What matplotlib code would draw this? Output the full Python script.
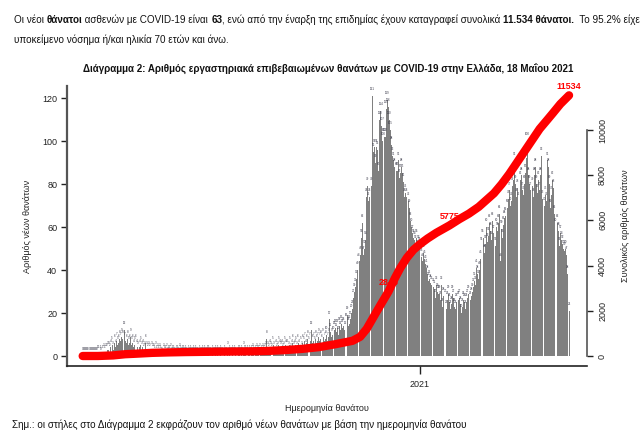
import numpy as np
import pandas as pd
import matplotlib
matplotlib.use("Agg")
import matplotlib.pyplot as plt
import matplotlib.dates as mdates

plt.rcParams['font.family'] = ['Liberation Sans Narrow', 'Liberation Sans', 'DejaVu Sans']

# daily deaths by date of death
deaths_2020_02 = [0, 0, 0, 0]
deaths_2020_03 = [0, 0, 0, 0, 0, 0, 0, 0, 0, 0, 1, 1, 1, 0, 1, 2, 1, 2, 2, 3,
                  3, 2, 4, 5, 3, 6, 4, 7, 5, 6, 8]
deaths_2020_04 = [7, 9, 8, 12, 7, 6, 8, 5, 6, 9, 5, 6, 4, 5, 6, 4, 3, 4, 5, 3,
                  4, 2, 3, 6, 3, 2, 3, 2, 3, 2]
deaths_2020_05 = [2, 1, 3, 1, 2, 1, 2, 1, 0, 2, 1, 1, 2, 0, 1, 1, 2, 0, 1, 1,
                  0, 1, 1, 0, 2, 1, 0, 1, 1, 0, 1]
deaths_2020_06 = [0, 1, 0, 1, 0, 0, 1, 0, 1, 0, 0, 1, 0, 0, 1, 0, 1, 0, 0, 1,
                  1, 0, 0, 1, 0, 0, 1, 0, 1, 0]
deaths_2020_07 = [0, 1, 0, 0, 1, 0, 0, 3, 0, 1, 0, 0, 1, 0, 1, 0, 0, 1, 1, 0,
                  1, 0, 3, 1, 1, 0, 1, 1, 0, 1, 2]
deaths_2020_08 = [1, 0, 1, 2, 1, 1, 2, 1, 2, 1, 2, 3, 8, 3, 2, 4, 3, 2, 5, 3,
                  4, 2, 3, 5, 4, 3, 4, 2, 3, 5, 4]
deaths_2020_09 = [4, 3, 5, 2, 4, 6, 3, 4, 5, 3, 6, 4, 5, 3, 6, 5, 7, 4, 6, 8,
                  5, 7, 12, 6, 7, 5, 8, 6, 7, 9]
deaths_2020_10 = [7, 8, 6, 9, 7, 8, 10, 7, 9, 17, 11, 9, 10, 12, 13, 11, 13, 10, 14, 12,
                  15, 13, 14, 12, 16, 19, 14, 15, 17, 20, 22]
deaths_2020_11 = [27, 30, 32, 36, 40, 44, 47, 55, 62, 47, 50, 54, 74, 79, 72, 74, 79, 121, 95, 97,
                  90, 97, 96, 86, 110, 114, 107, 100, 102, 102]
deaths_2020_12 = [115, 119, 116, 110, 105, 98, 93, 91, 88, 86, 86, 91, 83, 85, 88, 85, 81, 74, 76, 74,
                  72, 69, 63, 60, 57, 55, 54, 52, 55, 50, 52]
deaths_2021_01 = [51, 46, 44, 48, 45, 43, 41, 38, 35, 36, 34, 33, 32, 31, 27, 33, 30, 29, 29, 26,
                  33, 23, 28, 27, 22, 26, 29, 25, 22, 24, 29]
deaths_2021_02 = [27, 23, 22, 25, 26, 27, 24, 20, 23, 26, 25, 22, 25, 27, 29, 26, 28, 30, 32, 35,
                  33, 41, 38, 36, 40, 45, 51, 55]
deaths_2021_03 = [48, 52, 60, 53, 56, 62, 58, 54, 63, 57, 51, 60, 58, 62, 66, 44, 59, 55, 61, 64,
                  65, 69, 73, 77, 70, 72, 79, 82, 91, 80, 74]
deaths_2021_04 = [78, 72, 82, 84, 77, 75, 80, 85, 92, 100, 84, 80, 77, 79, 74, 84, 88, 80, 76, 82,
                  77, 84, 93, 73, 70, 75, 72, 91, 88, 80]
deaths_2021_05 = [69, 75, 82, 78, 66, 60, 62, 58, 51, 57, 54, 52, 50, 49, 50, 47, 38, 21]

# cumulative total (red line), read at selected dates
cum_dates = ['2020-02-26', '2020-03-11', '2020-03-25', '2020-04-05', '2020-04-15', '2020-04-30',
             '2020-05-15', '2020-05-31', '2020-06-30', '2020-07-31', '2020-08-15', '2020-08-31',
             '2020-09-15', '2020-09-30', '2020-10-15', '2020-10-31', '2020-11-07', '2020-11-13',
             '2020-11-19', '2020-11-25', '2020-12-03', '2020-12-09', '2020-12-14', '2020-12-20',
             '2020-12-26', '2021-01-01', '2021-01-08', '2021-01-16', '2021-01-28', '2021-02-06',
             '2021-02-15', '2021-02-24', '2021-03-03', '2021-03-10', '2021-03-17', '2021-03-24',
             '2021-03-31', '2021-04-07', '2021-04-14', '2021-04-21', '2021-04-28', '2021-05-03',
             '2021-05-10', '2021-05-18']
cum_values = [0, 1, 26, 79, 102, 140, 160, 175, 192, 206, 226, 266,
              317, 393, 520, 673, 850, 1200, 1700, 2200, 2848, 3450, 3900, 4350,
              4700, 4950, 5200, 5450, 5775, 6050, 6300, 6600, 6900, 7200, 7600, 8050,
              8550, 9050, 9550, 10050, 10450, 10738, 11150, 11534]
cum_labels = [2848, 5775, 11534]

W, H = 643, 443
fig = plt.figure(figsize=(W / 100, H / 100), dpi=100)
r = fig.canvas.get_renderer()


def fx(px):
    return px / W


def fy(py):
    return 1 - py / H


def put_runs(x_px, y_px, runs, size, total_px=None):
    texts = [fig.text(0, fy(y_px), s, fontsize=size, va='center', ha='left',
                      fontweight='bold' if b else 'normal', color='#111111') for s, b in runs]
    if total_px is not None:
        w = sum(t.get_window_extent(r).width for t in texts)
        size = size * total_px / w
        for t in texts:
            t.set_fontsize(size)
    x = x_px
    for t in texts:
        t.set_x(fx(x))
        x += t.get_window_extent(r).width
    return size


def fit(t, target_px):
    w = t.get_window_extent(r).width
    t.set_fontsize(t.get_fontsize() * target_px / w)
    return t.get_fontsize()


# header text
body_size = put_runs(14, 20, [("Οι νέοι ", False), ("θάνατοι", True),
                              (" ασθενών με COVID-19 είναι ", False), ("63", True),
                              (", ενώ από την έναρξη της επιδημίας έχουν καταγραφεί συνολικά ", False),
                              ("11.534 θάνατοι.", True), ("  Το 95.2% είχε", False)], 8, total_px=626)
fig.text(fx(14), fy(40), "υποκείμενο νόσημα ή/και ηλικία 70 ετών και άνω.",
         fontsize=body_size, va='center', ha='left', color='#111111')

title = fig.text(fx(328), fy(68), "Διάγραμμα 2: Αριθμός εργαστηριακά επιβεβαιωμένων θανάτων με "
                 "COVID-19 στην Ελλάδα, 18 Μαΐου 2021", fontsize=8, fontweight='bold',
                 ha='center', va='center', color='#111111')
fit(title, 493)

note = fig.text(fx(12), fy(425), "Σημ.: οι στήλες στο Διάγραμμα 2 εκφράζουν τον αριθμό νέων "
                "θανάτων με βάση την ημερομηνία θανάτου", fontsize=8, ha='left', va='center',
                color='#111111')
fit(note, 462)

# main axes
ax = fig.add_axes([fx(67), fy(366), (587 - 67) / W, (366 - 86) / H])
days = pd.date_range('2020-02-26', '2021-05-18', freq='D')
daily = np.concatenate([deaths_2020_02, deaths_2020_03, deaths_2020_04, deaths_2020_05,
                        deaths_2020_06, deaths_2020_07, deaths_2020_08, deaths_2020_09,
                        deaths_2020_10, deaths_2020_11, deaths_2020_12, deaths_2021_01,
                        deaths_2021_02, deaths_2021_03, deaths_2021_04, deaths_2021_05])
xd = mdates.date2num(days)
ax.bar(xd, daily, width=0.9, color='#808080', linewidth=0)
for xi, v in zip(xd, daily):
    ax.text(xi, v + 3.2, str(v), fontsize=2.2, ha='center', va='center', color='#3a3a4a')

ax.set_xlim(mdates.date2num(pd.Timestamp('2020-02-11 14:00')),
            mdates.date2num(pd.Timestamp('2021-06-03 12:00')))
ax.set_ylim(-4.65, 125.6)
ax.set_yticks(range(0, 121, 20))
ax.set_xticks([mdates.date2num(pd.Timestamp('2021-01-01'))])
ax.set_xticklabels(['2021'])
ax.tick_params(axis='y', labelsize=6.5, length=4, width=1, pad=3, colors='#222222')
ax.tick_params(axis='x', labelsize=6.5, length=6, width=1, pad=4, colors='#222222')
for s in ('top', 'right'):
    ax.spines[s].set_visible(False)
ax.spines['left'].set_color('#555555')
ax.spines['left'].set_linewidth(1.6)
ax.spines['bottom'].set_color('#222222')
ax.spines['bottom'].set_linewidth(1.2)
ax.set_ylabel("Αριθμός νέων θανάτων", fontsize=6.5, color='#222222')
ax.yaxis.set_label_coords(-0.067, 0.5)
ax.set_xlabel("Ημερομηνία θανάτου", fontsize=6.5, color='#222222')
ax.xaxis.set_label_coords(0.5, -0.135)

# cumulative line
ax2 = ax.twinx()
cx = mdates.date2num(pd.to_datetime(cum_dates))
ax2.plot(cx, cum_values, color='#ff0000', lw=6, solid_capstyle='round', solid_joinstyle='round')
ax2.set_ylim(-442, 11947)
ax2.set_yticks(range(0, 10001, 2000))
ax2.set_yticklabels([str(v) for v in range(0, 10001, 2000)], rotation=90, va='center')
ax2.tick_params(axis='y', labelsize=6.5, length=4, width=1, pad=4, colors='#222222')
for s in ('top', 'left', 'bottom'):
    ax2.spines[s].set_visible(False)
ax2.spines['right'].set_bounds(0, 10000)
ax2.spines['right'].set_color('#555555')
ax2.spines['right'].set_linewidth(1.2)
ax2.set_ylabel("Συνολικός αριθμός θανάτων", fontsize=6.5, color='#222222', rotation=90)
ax2.yaxis.set_label_coords(1.066, 0.5)

for lab in cum_labels:
    lx = np.interp(lab, cum_values, cx)
    ax2.annotate(str(lab), (lx, lab), xytext=(0, 6.5), textcoords='offset points',
                 ha='center', va='center', fontsize=6.5, fontweight='bold', color='#ff0000')

fig.savefig("out.png", dpi=100)
